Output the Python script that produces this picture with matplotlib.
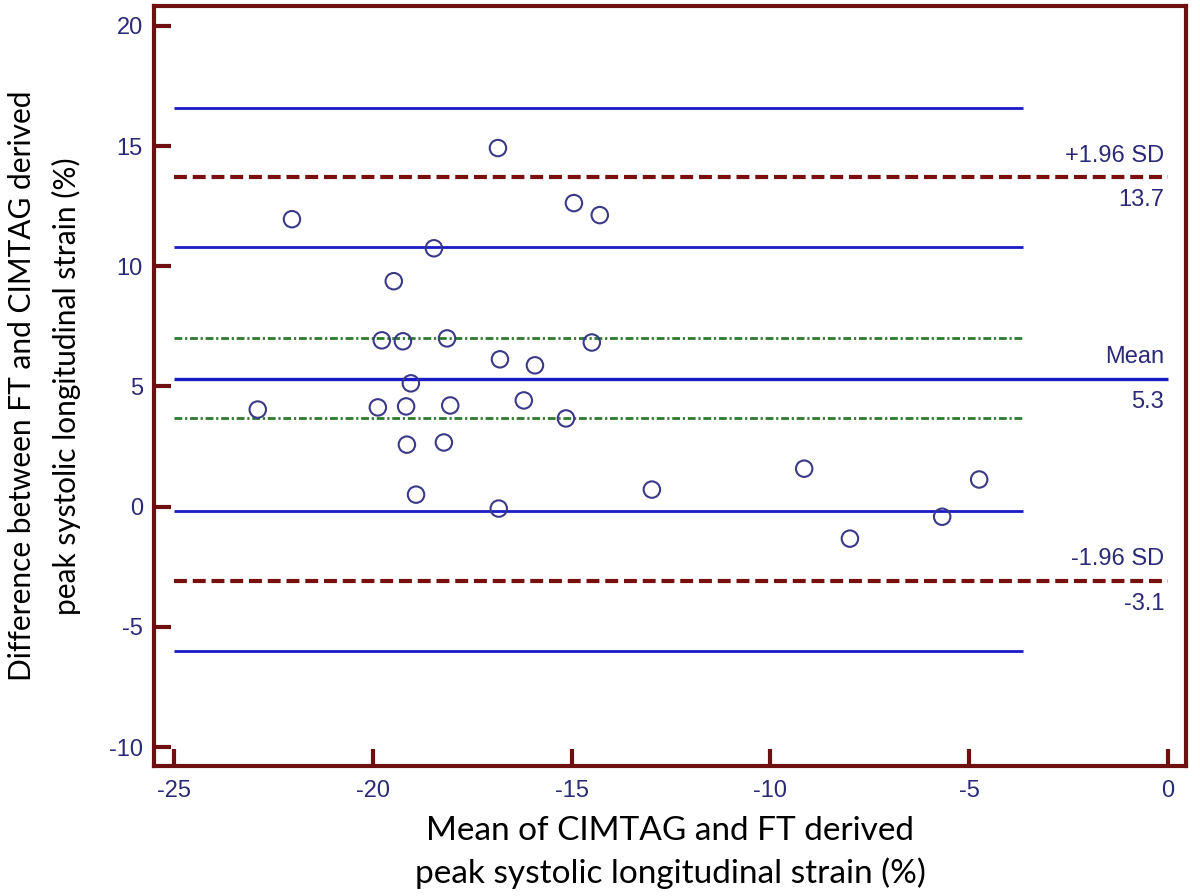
import matplotlib
matplotlib.use("Agg")
import matplotlib.pyplot as plt

plt.rcParams["font.family"] = ["Liberation Sans", "DejaVu Sans"]

# Data: Bland-Altman points (mean, difference)
mean_vals = [-16.85, -22.03, -14.94, -14.29, -18.46, -19.47, -19.77, -19.24, -18.13, -14.49,
             -16.80, -15.92, -19.04, -22.89, -19.87, -19.16, -18.05, -16.20, -15.14, -19.14,
             -18.21, -18.91, -16.83, -12.98, -9.15, -4.75, -5.68, -8.00]
diff_vals = [14.92, 11.96, 12.63, 12.13, 10.75, 9.38, 6.92, 6.88, 7.00, 6.83,
             6.13, 5.88, 5.13, 4.04, 4.13, 4.17, 4.21, 4.42, 3.67, 2.58,
             2.67, 0.50, -0.08, 0.71, 1.58, 1.13, -0.42, -1.33]

bias = 5.3
upper_loa = 13.7
lower_loa = -3.1
bias_ci = [7.0, 3.7]
upper_ci = [16.6, 10.8]
lower_ci = [-0.2, -6.0]

x_ticks = [-25, -20, -15, -10, -5, 0]
y_ticks = [-10, -5, 0, 5, 10, 15, 20]

maroon = "#6e1010"
dash_red = "#7a0f0f"
blue = "#1a1ac8"
navy = "#2a2a78"
green = "#2d7a2d"

fig = plt.figure(figsize=(12, 8.96), dpi=100)
ax = fig.add_axes([0.1283, 0.1451, 0.86, 0.8482])

xmin, xmax = -25.5, 0.45
ymin, ymax = -10.79, 20.83
ax.set_xlim(xmin, xmax)
ax.set_ylim(ymin, ymax)

x_start = x_ticks[0]
x_end_ci = -3.65
x_end = x_ticks[-1]

# CI lines (blue solid)
for v in upper_ci + lower_ci:
    ax.plot([x_start, x_end_ci], [v, v], color=blue, lw=2.0, solid_capstyle="butt", zorder=2)
# Mean CI (green dash-dot)
for v in bias_ci:
    ax.plot([x_start, x_end_ci], [v, v], color=green, lw=2.0, dashes=(2.8, 1.0, 0.8, 1.0), zorder=2)
# Mean line
ax.plot([x_start, x_end], [bias, bias], color=blue, lw=2.4, solid_capstyle="butt", zorder=2)
# Limits of agreement
for v in [upper_loa, lower_loa]:
    ax.plot([x_start, x_end], [v, v], color=dash_red, lw=3.0, dashes=(3.1, 1.4), zorder=2)

# Points
ax.scatter(mean_vals, diff_vals, s=140, facecolors="none", edgecolors="#3a3a88", linewidths=1.5, zorder=3)

# Annotations
txt_kw = dict(color=navy, fontsize=17, ha="right")
ax.text(-0.1, upper_loa + 0.45, "+1.96 SD", va="bottom", **txt_kw)
ax.text(-0.1, upper_loa - 0.5, "13.7", va="top", **txt_kw)
ax.text(-0.1, bias + 0.45, "Mean", va="bottom", **txt_kw)
ax.text(-0.1, bias - 0.5, "5.3", va="top", **txt_kw)
ax.text(-0.1, lower_loa + 0.45, "-1.96 SD", va="bottom", **txt_kw)
ax.text(-0.1, lower_loa - 0.5, "-3.1", va="top", **txt_kw)

# Spines and ticks
for s in ax.spines.values():
    s.set_color(maroon)
    s.set_linewidth(3.0)
ax.set_xticks(x_ticks)
ax.set_yticks(y_ticks)
ax.set_xticklabels([str(t) for t in x_ticks])
ax.set_yticklabels([str(t) for t in y_ticks])
ax.tick_params(axis="both", direction="in", length=12, width=3.0, color=maroon,
               labelcolor=navy, labelsize=17, top=False, right=False)
ax.tick_params(axis="y", pad=8)
ax.tick_params(axis="x", pad=10)

ax.set_xlabel("Mean of CIMTAG and FT derived\npeak systolic longitudinal strain (%)",
              fontsize=24, family="Lato", color="black", linespacing=1.45, labelpad=10)
ax.set_ylabel("Difference between FT and CIMTAG derived\npeak systolic longitudinal strain (%)",
              fontsize=21.5, family="Lato", color="black", linespacing=1.65, labelpad=20)

fig.savefig("out.png", dpi=100)
